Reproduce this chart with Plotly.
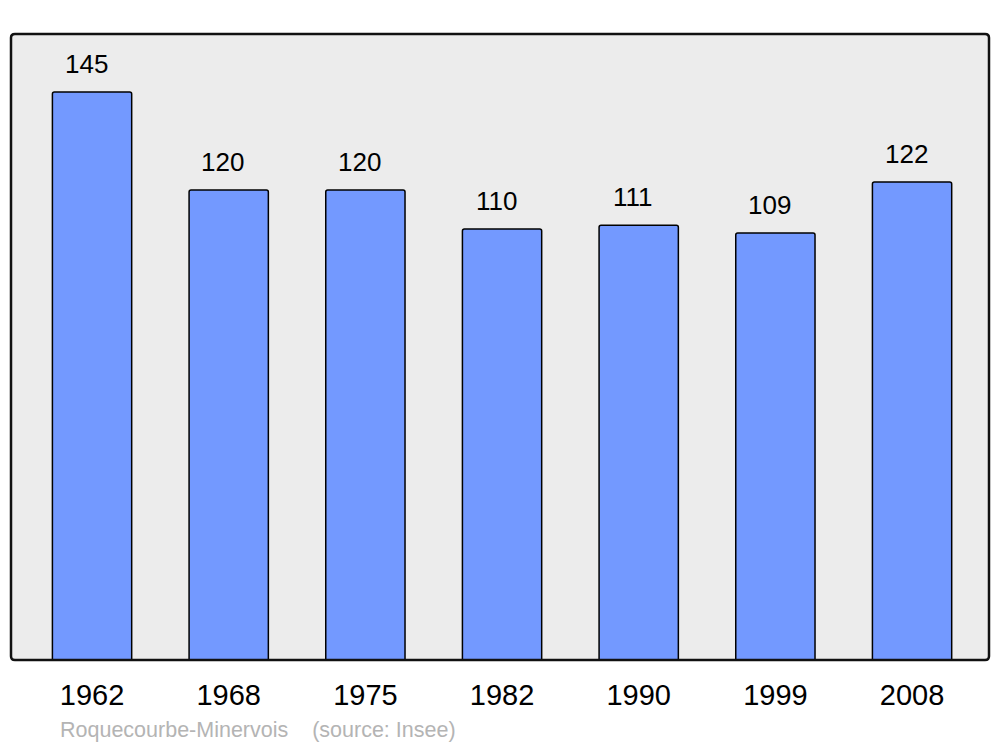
import plotly.graph_objects as go

years = ["1962", "1968", "1975", "1982", "1990", "1999", "2008"]
population = [145, 120, 120, 110, 111, 109, 122]
commune = "Roquecourbe-Minervois"
source = "(source: Insee)"

BAR_COLOR = "#7399FF"
BG = "#ECECEC"
FONT = "Liberation Sans, Arial, sans-serif"

fig = go.Figure()
fig.add_trace(go.Bar(
    x=list(range(len(years))), y=population,
    width=0.58,
    marker=dict(color=BAR_COLOR, line=dict(color="#000000", width=1.5),
                cornerradius=2),
    hoverinfo="skip",
))

for i, v in enumerate(population):
    fig.add_annotation(x=i, y=v, text=str(v), showarrow=False,
                       yanchor="bottom", yshift=11, xshift=-6,
                       font=dict(family=FONT, size=26, color="#000000"))

fig.add_annotation(xref="paper", yref="paper", x=(58 - 11) / 978, y=-0.112,
                   xanchor="left", yanchor="middle", showarrow=False,
                   text=commune + "&nbsp;&nbsp;&nbsp;&nbsp;" + source,
                   font=dict(family=FONT, size=21.5, color="#B4B4B4"))

fig.update_layout(
    width=1000, height=747,
    margin=dict(l=11, r=11, t=34, b=87),
    paper_bgcolor="#FFFFFF",
    plot_bgcolor=BG,
    showlegend=False,
    bargap=0.42,
    xaxis=dict(range=[-0.593, 6.563], tickmode="array",
               tickvals=list(range(len(years))), ticktext=years,
               showgrid=False, zeroline=False, showline=False,
               ticks="", ticklen=0, ticklabelstandoff=15,
               tickfont=dict(family=FONT, size=29, color="#000000")),
    yaxis=dict(range=[0, 159.8], showgrid=False, zeroline=False,
               showticklabels=False, showline=False, ticks=""),
    shapes=[dict(type="path", xref="paper", yref="paper",
                 path="M 0.004,0 L 0.996,0 Q 1,0 1,0.006 L 1,0.994 Q 1,1 0.996,1 "
                      "L 0.004,1 Q 0,1 0,0.994 L 0,0.006 Q 0,0 0.004,0 Z",
                 line=dict(color="#111111", width=2.5), layer="above")],
)

fig.write_html("out.html", config={"displayModeBar": False, "staticPlot": True},
               post_script="document.body.style.margin='0';document.body.style.overflow='hidden';")
